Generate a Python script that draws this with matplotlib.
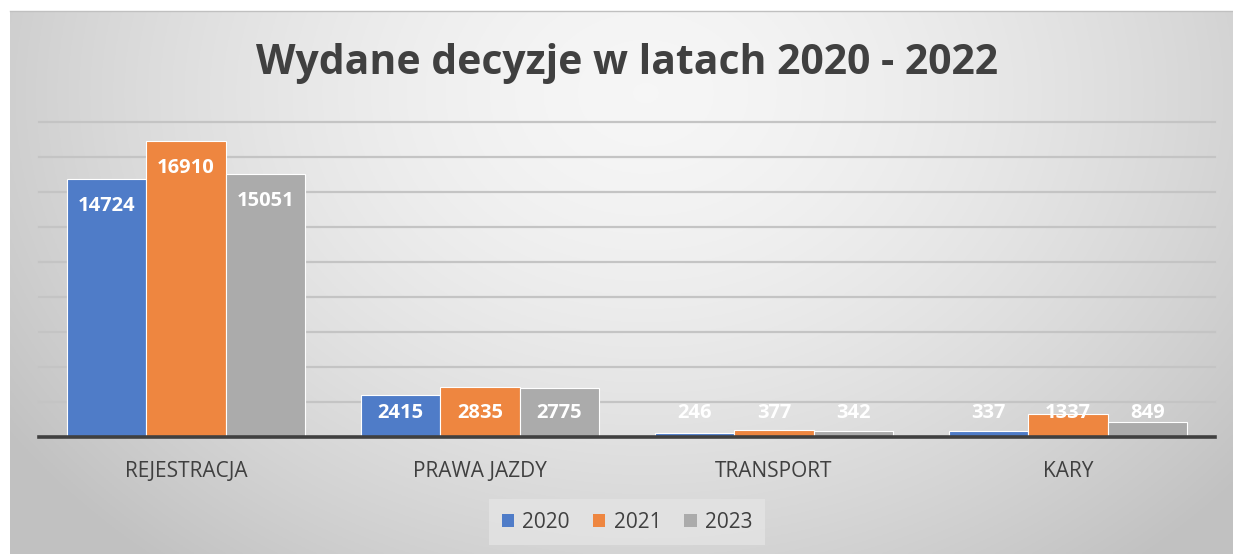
import numpy as np
import matplotlib.pyplot as plt
from matplotlib.patches import Patch

categories = ['REJESTRACJA', 'PRAWA JAZDY', 'TRANSPORT', 'KARY']
series_names = ['2020', '2021', '2023']
values_2020 = [14724, 2415, 246, 337]
values_2021 = [16910, 2835, 377, 1337]
values_2023 = [15051, 2775, 342, 849]
colors = ['#4f7cc8', '#ee8640', '#ababab']

plt.rcParams['font.family'] = ['Open Sans', 'DejaVu Sans']
text_color = '#404040'

W, H = 1233, 554
fig = plt.figure(figsize=(W / 100, H / 100), dpi=100)

# background panel with a soft radial gradient
bg = fig.add_axes([10 / W, 0, (W - 10) / W, (H - 11) / H])
yy, xx = np.mgrid[0:1:300j, 0:1:600j]
r = np.sqrt(((xx - 0.52) / 0.62) ** 2 + ((yy - 0.15) / 1.1) ** 2)
shade = np.clip(0.965 - 0.2 * r ** 1.6, 0.76, 1.0)
bg.imshow(np.dstack([shade] * 3), aspect='auto', extent=[0, 1, 1, 0])
bg.set_axis_off()
fig.add_artist(plt.Line2D([10 / W, 1], [(H - 11) / H] * 2, color='#c0c0c0', lw=1))

ax = fig.add_axes([39 / W, 1 - 437 / H, (1215 - 39) / W, (437 - 122) / H])
ax.patch.set_alpha(0)
x = np.arange(len(categories))
width = 0.27
all_vals = [values_2020, values_2021, values_2023]

for gy in range(2000, 18001, 2000):
    ax.axhline(gy, color='#c4c4c4', lw=1.6, zorder=0, clip_on=False)

for i, (vals, c) in enumerate(zip(all_vals, colors)):
    pos = x + (i - 1) * width
    ax.bar(pos, vals, width, color=c, edgecolor='white', linewidth=0.8, zorder=2)
    for px, v in zip(pos, vals):
        ly = max(v - 1540, 1370)
        ax.text(px, ly, str(v), ha='center', va='center', color='white',
                fontsize=14.5, fontweight='bold', zorder=3)

ax.axhline(0, color='#404040', lw=2.6, zorder=4, clip_on=False)
ax.set_xlim(-0.5, len(categories) - 0.5)
ax.set_ylim(0, 18000)
ax.set_yticks([])
ax.set_xticks(x)
ax.set_xticklabels(categories, fontsize=15, color=text_color)
ax.tick_params(axis='x', length=0, pad=17)
for s in ax.spines.values():
    s.set_visible(False)

fig.text(627 / W, 1 - 64 / H, 'Wydane decyzje w latach 2020 - 2022', ha='center', va='center',
         fontsize=29.4, fontweight='bold', color=text_color)

handles = [Patch(facecolor=c, edgecolor='none') for c in colors]
leg = fig.legend(handles, series_names, loc='center', bbox_to_anchor=(627 / W, 1 - 522 / H),
                 ncol=3, frameon=True, fontsize=15, handlelength=0.6, handleheight=0.6,
                 handletextpad=0.4, columnspacing=1.1, borderpad=0.6)
leg.get_frame().set_facecolor('#e4e4e4')
leg.get_frame().set_edgecolor('none')
leg.get_frame().set_boxstyle('square', pad=0)
for t in leg.get_texts():
    t.set_color(text_color)

fig.savefig('out.png', dpi=100)
